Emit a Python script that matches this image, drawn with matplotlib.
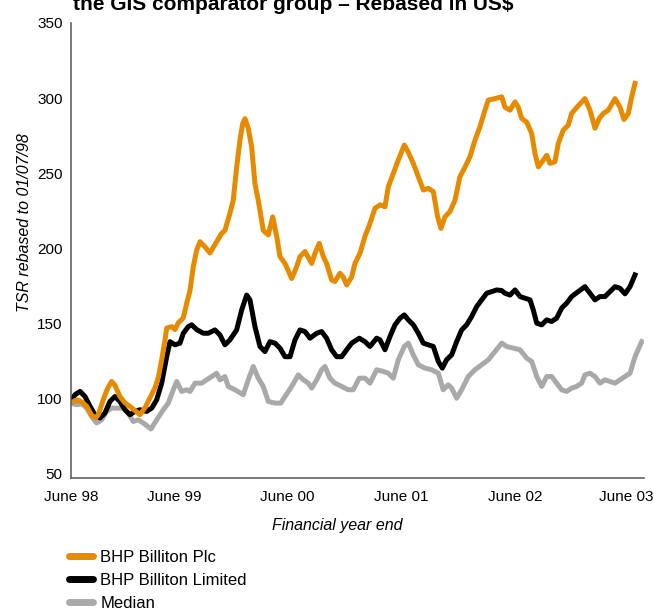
import numpy as np
import matplotlib
matplotlib.use("Agg")
import matplotlib.pyplot as plt
import matplotlib.transforms as mtransforms
from matplotlib.lines import Line2D

# years after June 98 (June 99 = 1.0 ...)
plc_t = [0.095, 0.145, 0.189, 0.233, 0.276, 0.312, 0.335, 0.378, 0.417, 0.452,
         0.481, 0.525, 0.569, 0.628, 0.701, 0.745, 0.789, 0.833, 0.862, 0.892,
         0.921, 0.936, 0.980, 1.009, 1.038, 1.082, 1.112, 1.141, 1.170, 1.200,
         1.229, 1.273, 1.316, 1.375, 1.419, 1.448, 1.492, 1.521, 1.551, 1.580,
         1.604, 1.624, 1.653, 1.683, 1.712, 1.741, 1.785, 1.829, 1.868, 1.903,
         1.932, 1.976, 2.035, 2.079, 2.108, 2.152, 2.211, 2.240, 2.277, 2.313,
         2.342, 2.386, 2.415, 2.459, 2.488, 2.518, 2.562, 2.591, 2.635, 2.679,
         2.723, 2.767, 2.811, 2.855, 2.884, 2.928, 2.972, 3.025, 3.060, 3.104,
         3.148, 3.192, 3.236, 3.280, 3.318, 3.347, 3.382, 3.426, 3.470, 3.514,
         3.558, 3.602, 3.646, 3.690, 3.734, 3.763, 3.822, 3.881, 3.910, 3.954,
         3.998, 4.027, 4.057, 4.101, 4.145, 4.174, 4.203, 4.247, 4.277, 4.305,
         4.349, 4.379, 4.422, 4.466, 4.496, 4.554, 4.613, 4.657, 4.701, 4.739,
         4.774, 4.818, 4.877, 4.921, 4.956, 4.994, 5.024, 5.053]
plc = [97.3, 99.3, 98, 95, 89, 87.4, 89.4, 99.3, 107, 111.5,
       109, 101.5, 97.3, 94, 89.4, 94, 100.7, 107.3, 114, 126,
       139, 147, 148, 146, 150.5, 153.8, 163.6, 172, 188, 199,
       204.5, 201, 197, 204.5, 210, 212, 223.5, 232, 254, 272,
       283, 286.4, 280, 267.6, 243, 232, 212, 209, 221, 208,
       194.6, 190, 180, 188, 194.6, 198, 190, 196.8, 203.4, 194.6,
       190, 179, 178, 183.5, 181, 175.7, 181, 190, 196.8, 208,
       216.7, 226.7, 229, 227.8, 241, 250, 258.8, 268.8, 264, 256.6,
       247.7, 238.9, 240, 237.8, 221, 213.4, 221, 224.5, 232, 247.7,
       254, 261, 272, 281, 292, 298.7, 299.7, 300.9, 294, 292,
       297.5, 294, 286.5, 284, 276.5, 263, 254.3, 258.8, 262, 256.6,
       257.7, 270, 278.7, 282, 289.8, 295, 299.7, 292, 280, 286.5,
       289.8, 292, 299.7, 294, 285.8, 289.8, 300.9, 309.8]

ltd_t = [0.095, 0.130, 0.174, 0.218, 0.262, 0.305, 0.349, 0.393, 0.437, 0.481,
         0.525, 0.569, 0.613, 0.657, 0.701, 0.760, 0.804, 0.848, 0.892, 0.936,
         0.965, 1.009, 1.053, 1.082, 1.126, 1.156, 1.200, 1.258, 1.302, 1.360,
         1.404, 1.448, 1.492, 1.551, 1.595, 1.639, 1.668, 1.712, 1.756, 1.800,
         1.844, 1.888, 1.932, 1.976, 2.020, 2.064, 2.108, 2.152, 2.196, 2.255,
         2.298, 2.342, 2.386, 2.430, 2.474, 2.518, 2.562, 2.629, 2.679, 2.723,
         2.782, 2.811, 2.855, 2.899, 2.943, 2.987, 3.025, 3.060, 3.104, 3.148,
         3.192, 3.236, 3.280, 3.324, 3.359, 3.397, 3.441, 3.485, 3.529, 3.573,
         3.617, 3.661, 3.705, 3.749, 3.793, 3.837, 3.881, 3.910, 3.954, 3.998,
         4.042, 4.086, 4.130, 4.159, 4.189, 4.233, 4.277, 4.320, 4.364, 4.408,
         4.452, 4.496, 4.554, 4.613, 4.657, 4.701, 4.745, 4.789, 4.833, 4.877,
         4.921, 4.965, 5.009, 5.053]
ltd = [98.2, 102.7, 104.9, 101.5, 95, 89.4, 87.2, 90.5, 98.2, 101.5,
       98.2, 92.7, 89.4, 91.6, 92.7, 91.6, 93.8, 99.3, 110.4, 128,
       138, 135.9, 137, 143.6, 148, 149.2, 146, 143.6, 143.6, 145.8,
       142.5, 135.9, 139.2, 145.8, 159, 169, 165.8, 148, 134.8, 131.4,
       138, 137, 133.7, 128, 128, 139.2, 145.8, 144.7, 140.3, 143.6,
       144.7, 140.3, 132.6, 128, 128, 132.6, 137, 140.3, 138, 134.8,
       140.3, 139.2, 132.6, 141.4, 149.2, 153.6, 155.8, 152.5, 149.2, 143.6,
       137, 135.9, 134.8, 124.8, 120.4, 126, 129.2, 138, 145.8, 149.2,
       154.7, 161.3, 165.8, 170.2, 171.3, 172.4, 172, 170.2, 169, 172.4,
       168, 166.9, 165.8, 159, 150.3, 149.2, 152.5, 151.4, 153.6, 160.3,
       163.6, 168, 171.3, 174.6, 170.2, 165.8, 168, 168, 171.3, 174.6,
       173.5, 169.8, 174.6, 182.4]

med_t = [0.095, 0.145, 0.189, 0.233, 0.276, 0.320, 0.364, 0.408, 0.452, 0.496,
         0.554, 0.598, 0.642, 0.686, 0.730, 0.798, 0.848, 0.906, 0.950, 0.994,
         1.024, 1.068, 1.112, 1.141, 1.185, 1.244, 1.287, 1.354, 1.375, 1.404,
         1.448, 1.477, 1.536, 1.609, 1.653, 1.697, 1.741, 1.785, 1.829, 1.888,
         1.938, 1.976, 2.035, 2.093, 2.137, 2.181, 2.211, 2.255, 2.298, 2.327,
         2.371, 2.415, 2.474, 2.532, 2.576, 2.629, 2.679, 2.723, 2.782, 2.840,
         2.884, 2.928, 2.972, 3.025, 3.060, 3.104, 3.148, 3.207, 3.265, 3.324,
         3.367, 3.411, 3.441, 3.485, 3.529, 3.587, 3.646, 3.705, 3.763, 3.822,
         3.881, 3.924, 3.983, 4.042, 4.101, 4.145, 4.189, 4.233, 4.277, 4.320,
         4.364, 4.408, 4.452, 4.496, 4.540, 4.584, 4.613, 4.657, 4.701, 4.745,
         4.789, 4.833, 4.877, 4.921, 4.965, 5.009, 5.053, 5.112]
med = [97.1, 96, 96.7, 93.8, 88.2, 83.9, 86, 91.6, 93.8, 93.8,
       93.8, 90.5, 84.9, 86, 83.9, 79.9, 86, 92.7, 97.1, 106,
       111.5, 104.9, 106, 104.9, 110.4, 110.4, 112.6, 115.9, 117, 112.6,
       114.8, 108.2, 106, 102.7, 112.6, 121.5, 113.7, 108.2, 98.2, 97.1,
       97.1, 101.5, 108.2, 115.9, 112.6, 110.4, 107.1, 112.6, 119.3, 121.5,
       113.7, 110.4, 108.2, 106, 106, 113.7, 113.7, 110.4, 119.3, 118.2,
       117, 113.7, 125.9, 134.8, 137, 129.2, 122.6, 120.4, 119.3, 117,
       106, 109.3, 107.1, 100.4, 106, 114.8, 119.3, 122.6, 125.9, 131.4,
       137, 134.8, 133.7, 132.6, 127, 124.8, 114.8, 108.2, 114.8, 114.8,
       110.4, 106, 104.9, 107.1, 108.2, 110.4, 115.9, 117, 114.8, 110.4,
       112.6, 111.5, 110.4, 112.6, 114.8, 117, 128, 138]

tick_pos = [0.095, 1, 2, 3, 4, 5]
tick_labels = ["June 98", "June 99", "June 00", "June 01", "June 02", "June 03"]
names = ["BHP Billiton Plc", "BHP Billiton Limited", "Median"]
colors = ["#E68A00", "#000000", "#A9A9A9"]

plt.rcParams['font.family'] = ['Liberation Sans', 'DejaVu Sans']

fig = plt.figure(figsize=(6.54, 6.10), dpi=100)
ax = fig.add_axes([0.1086, 0.2169, 0.8761, 0.7454])

lw = 3.6
ax.plot(med_t, med, color=colors[2], lw=lw, solid_joinstyle='round')
ax.plot(ltd_t, ltd, color=colors[1], lw=lw, solid_joinstyle='round')
ax.plot(plc_t, plc, color=colors[0], lw=lw, solid_joinstyle='round')

ax.set_xlim(0.095, 5.132)
ax.set_ylim(47.5, 350)
ax.set_yticks([50, 100, 150, 200, 250, 300, 350])
ax.set_xticks(tick_pos)
ax.set_xticklabels(tick_labels)
ax.tick_params(length=0, labelsize=11, colors='black')
ax.tick_params(axis='x', pad=9)
ax.tick_params(axis='y', pad=6)
# nudge the last label so it stays inside the figure
last = ax.get_xticklabels()[-1]
last.set_transform(last.get_transform() + mtransforms.ScaledTranslation(-3 / 100, 0, fig.dpi_scale_trans))

for s in ['top', 'right']:
    ax.spines[s].set_visible(False)
for s in ['left', 'bottom']:
    ax.spines[s].set_color('#555555')
    ax.spines[s].set_linewidth(1.1)

ax.set_ylabel("TSR rebased to 01/07/98", fontsize=11.5, style='italic', va='center')
ax.yaxis.set_label_coords(-0.082, 0.56)
ax.set_xlabel("Financial year end", fontsize=11.5, style='italic', va='center')
ax.xaxis.set_label_coords(0.465, -0.106)

fig.text(0.112, 0.9844, "the GIS comparator group \u2013 Rebased in US$",
         fontsize=15, fontweight='bold', ha='left', va='baseline')

handles = [Line2D([], [], color=c, lw=5, solid_capstyle='round') for c in colors]
fig.legend(handles, names, loc='upper left', bbox_to_anchor=(0.106, 0.099),
           frameon=False, fontsize=12, handlelength=1.4, handletextpad=0.45,
           labelspacing=0.5, borderaxespad=0, borderpad=0)

fig.savefig("out.png", dpi=100)
